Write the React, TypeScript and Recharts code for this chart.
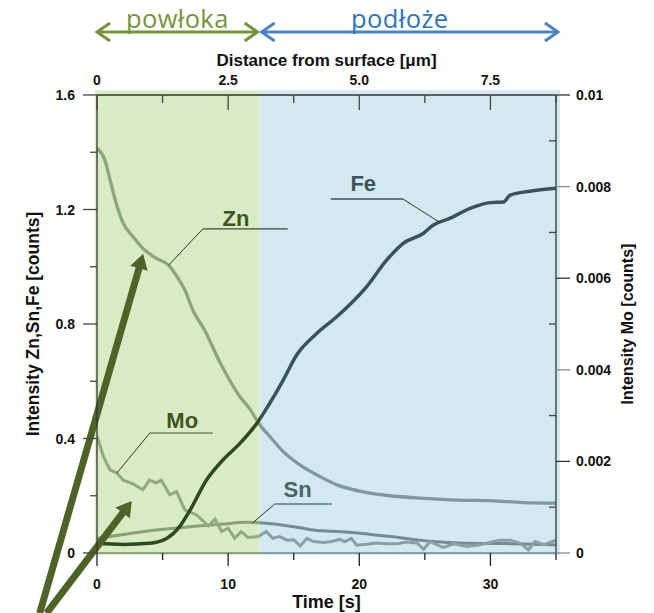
import { LineChart, Line, XAxis, YAxis, ReferenceArea, ReferenceLine, ReferenceDot } from "recharts";

// Zn, Sn, Fe on the left axis, Mo on the right axis, time in seconds
const znTime = [0, 0.6, 1.0, 1.5, 2.0, 2.75, 3.5, 4.5, 5.5, 6.1, 6.7, 7.3, 8.2, 9.4, 10.9, 11.7, 12.3, 13.2, 14.2, 15.5, 16.8, 18.3, 20.6, 22.3, 24.9, 27.4, 30, 32.5, 35];
const znCounts = [1.414, 1.373, 1.303, 1.216, 1.152, 1.105, 1.064, 1.03, 1.004, 0.965, 0.919, 0.849, 0.779, 0.664, 0.546, 0.5, 0.455, 0.406, 0.354, 0.307, 0.272, 0.238, 0.211, 0.2, 0.191, 0.185, 0.183, 0.176, 0.174];

const feTime = [0, 2.0, 4.0, 5.3, 6.3, 7.1, 8.35, 9.6, 10.9, 12.3, 13.0, 14.2, 15.2, 16.75, 18.3, 20.55, 22.1, 23.35, 24.9, 25.65, 26.9, 28.45, 30.0, 31.0, 31.5, 33.0, 35];
const feCounts = [0.034, 0.03, 0.034, 0.051, 0.092, 0.15, 0.255, 0.325, 0.383, 0.46, 0.51, 0.604, 0.69, 0.767, 0.826, 0.93, 1.024, 1.082, 1.117, 1.146, 1.169, 1.204, 1.224, 1.226, 1.25, 1.264, 1.274];

const snTime = [0, 2.0, 4.5, 7.1, 9.6, 11.4, 12.4, 13.3, 14.2, 15.0, 16.75, 17.5, 20.05, 21.8, 22.6, 24.5, 25.65, 26.9, 28.2, 30.8, 33.3, 35];
const snCounts = [0.051, 0.065, 0.08, 0.092, 0.101, 0.107, 0.106, 0.102, 0.097, 0.092, 0.079, 0.077, 0.069, 0.06, 0.057, 0.045, 0.04, 0.037, 0.034, 0.033, 0.031, 0.028];

const moTime = [0, 0.5, 1.0, 1.5, 2.0, 2.75, 3.5, 4.0, 4.5, 4.9, 5.55, 6.06, 6.7, 7.6, 8.5, 9.0, 9.5, 10.0, 10.5, 11.0, 11.5, 12.3, 12.9, 13.4, 13.9, 14.5, 15.0, 15.5, 16.0, 16.5, 17.3, 17.9, 18.5, 18.9, 19.4, 19.8, 20.6, 21.35, 22.1, 22.9, 23.6, 24.4, 24.9, 25.4, 26.4, 27.2, 28.2, 29.2, 30.7, 31.5, 32.3, 32.9, 33.4, 34.1, 35];
const moCounts = [0.00255, 0.0021, 0.00181, 0.00175, 0.00159, 0.00151, 0.00138, 0.00159, 0.00153, 0.00159, 0.00127, 0.00134, 0.00094, 0.00083, 0.00059, 0.00074, 0.00047, 0.00054, 0.00032, 0.00047, 0.00034, 0.00036, 0.00047, 0.00032, 0.00036, 0.00028, 0.00029, 0.00015, 0.00032, 0.00025, 0.00023, 0.00025, 0.0003, 0.00025, 0.00032, 0.00017, 0.00019, 0.00022, 0.0002, 0.0002, 0.00024, 0.00022, 0.00008, 0.00025, 0.00012, 0.0002, 0.00014, 0.00018, 0.00028, 0.00028, 0.00021, 0.00007, 0.00025, 0.00018, 0.00028];

const timeMax = 35;
const distanceMax = 8.75;
const coatingEnd = 12.4; // s, powłoka | podłoże

const bottomMajor = [0, 10, 20, 30];
const bottomLabels = ["0", "10", "20", "30"];
const bottomMinor = [5, 15, 25, 35];
const topMajor = [0, 2.5, 5, 7.5];
const topLabels = ["0", "2.5", "5.0", "7.5"];
const topMinor = [1.25, 3.75, 6.25, 8.75];
const leftMajor = [0, 0.4, 0.8, 1.2, 1.6];
const leftLabels = ["0", "0.4", "0.8", "1.2", "1.6"];
const leftMinor = [0.2, 0.6, 1.0, 1.4];
const rightMajor = [0, 0.002, 0.004, 0.006, 0.008, 0.01];
const rightLabels = ["0", "0.002", "0.004", "0.006", "0.008", "0.01"];
const rightMinor = [0.001, 0.003, 0.005, 0.007, 0.009];

const rows = (t: number[], v: number[]) => t.map((x, i) => ({ t: x, v: v[i] }));

const FONT = "'Liberation Sans', Arial, sans-serif";
const split = coatingEnd / timeMax;

const specs: any = {
  bottom: { major: bottomMajor, labels: bottomLabels },
  top: { major: topMajor, labels: topLabels },
  left: { major: leftMajor, labels: leftLabels },
  right: { major: rightMajor, labels: rightLabels },
};

function AxisTick(props: any) {
  const { x, y, payload, side } = props;
  const spec = specs[side];
  const i = spec.major.findIndex((m: number) => Math.abs(m - payload.value) < 1e-9);
  const major = i >= 0;
  const txt = { fontFamily: FONT, fontWeight: 700, fontSize: 14, fill: "#111" };
  let tick: any;
  let label: any = null;
  if (side === "left") {
    tick = <line x1={x - (major ? 14 : 7)} y1={y} x2={x} y2={y} stroke="#444" strokeWidth={1.3} />;
    if (major) label = <text x={x - 22} y={y} dy={5} textAnchor="end" {...txt}>{spec.labels[i]}</text>;
  } else if (side === "right") {
    const grey = major && i % 2 === 0;
    tick = major
      ? <line x1={x} y1={y} x2={x + 14} y2={y} stroke={grey ? "#8a8a8a" : "#333"} strokeWidth={1.3} />
      : <line x1={x - 7} y1={y} x2={x} y2={y} stroke="#444" strokeWidth={1.3} />;
    if (major) label = <text x={x + 20} y={y} dy={5} textAnchor="start" {...txt}>{spec.labels[i]}</text>;
  } else if (side === "bottom") {
    tick = <line x1={x} y1={y} x2={x} y2={y + (major ? 13 : 7)} stroke="#222" strokeWidth={1.3} />;
    if (major) label = <text x={x} y={y + 36} textAnchor="middle" {...txt}>{spec.labels[i]}</text>;
  } else {
    tick = <line x1={x} y1={y} x2={x} y2={y + (major ? 15 : 8)} stroke="#444" strokeWidth={1.3} />;
    if (major) label = <text x={x} y={y - 10} textAnchor="middle" {...txt}>{spec.labels[i]}</text>;
  }
  return <g>{tick}{label}</g>;
}

function SpanArrow({ viewBox, text, color, textColor, dx }: any) {
  const left = viewBox.x + 2;
  const right = viewBox.x + viewBox.width - 2;
  const y = 32;
  return (
    <g>
      <line x1={left} y1={y} x2={right} y2={y} stroke={color} strokeWidth={3} />
      <polyline points={`${left + 13},${y - 9} ${left},${y} ${left + 13},${y + 9}`} fill="none" stroke={color} strokeWidth={3} />
      <polyline points={`${right - 13},${y - 9} ${right},${y} ${right - 13},${y + 9}`} fill="none" stroke={color} strokeWidth={3} />
      <text x={(left + right) / 2 + dx} y={28} textAnchor="middle" fontFamily="'Open Sans', sans-serif" fontSize={25.5} letterSpacing={0.4} fill={textColor}>{text}</text>
    </g>
  );
}

function BigArrow(props: any) {
  const { x1, y1, x2, y2 } = props;
  const len = Math.hypot(x2 - x1, y2 - y1);
  const ux = (x2 - x1) / len;
  const uy = (y2 - y1) / len;
  const bx = x2 - ux * 15;
  const by = y2 - uy * 15;
  return (
    <g>
      <line x1={x1} y1={y1} x2={bx + ux * 2} y2={by + uy * 2} stroke="#4f6228" strokeWidth={7} />
      <polygon points={`${x2},${y2} ${bx - uy * 9},${by + ux * 9} ${bx + uy * 9},${by - ux * 9}`} fill="#4f6228" />
    </g>
  );
}

const leader = (p: any, color: string, w: number) => <line x1={p.x1} y1={p.y1} x2={p.x2} y2={p.y2} stroke={color} strokeWidth={w} />;

function Tag(color: string, text: string) {
  return (p: any) => (
    <text x={p.cx} y={p.cy} textAnchor="middle" fontFamily={FONT} fontWeight={700} fontSize={22} fill={color}>{text}</text>
  );
}

// label positions and leader lines of the element tags (data units)
const tags = [
  { name: "Zn", color: "#3f5522", at: [10.6, 1.141], bar: [8.07, 14.54, 1.132], tip: [5.47, 1.006], barColor: "#3c4a38", barW: 1.3 },
  { name: "Fe", color: "#3b5559", at: [20.3, 1.265], bar: [17.83, 23.32, 1.237], tip: [26.1, 1.156], barColor: "#5d777b", barW: 2 },
  { name: "Mo", color: "#3f5522", at: [6.5, 0.437], bar: [4.03, 8.83, 0.419], tip: [1.51, 0.279], barColor: "#8aa276", barW: 2 },
  { name: "Sn", color: "#4a6468", at: [15.3, 0.194], bar: [13.55, 17.9, 0.171], tip: [11.87, 0.105], barColor: "#5d777b", barW: 1.5 },
];

export default function App() {
  const ax = { xAxisId: "bottom", yAxisId: "left" } as const;
  return (
    <div style={{ width: 654, height: 613 }}>
      <style>{`body{margin:0}`}</style>
      <LineChart width={654} height={613} margin={{ top: 0, right: 0, bottom: 0, left: 0 }}>
        <defs>
          <linearGradient id="gZn" x1="0" y1="0" x2="1" y2="0">
            <stop offset={split} stopColor="#8ba677" />
            <stop offset={split} stopColor="#7e989b" />
          </linearGradient>
          <linearGradient id="gMo" x1="0" y1="0" x2="1" y2="0">
            <stop offset={split} stopColor="#91aa7b" />
            <stop offset={split} stopColor="#87a1a4" />
          </linearGradient>
          <linearGradient id="gSn" x1="0" y1="0" x2="1" y2="0">
            <stop offset={split} stopColor="#88a274" />
            <stop offset={split} stopColor="#718d91" />
          </linearGradient>
          <linearGradient id="gFe" x1="0" y1="0" x2="1" y2="0">
            <stop offset={split} stopColor="#2d4a1f" />
            <stop offset={split} stopColor="#3a5357" />
          </linearGradient>
          <linearGradient id="gBase" gradientUnits="userSpaceOnUse" x1="97" y1="0" x2="556" y2="0">
            <stop offset={split} stopColor="#8fa87f" />
            <stop offset={split} stopColor="#86a0a3" />
          </linearGradient>
        </defs>

        <XAxis
          xAxisId="bottom" type="number" dataKey="t" domain={[0, timeMax]} allowDataOverflow
          ticks={[...bottomMajor, ...bottomMinor].sort((a, b) => a - b)} interval={0}
          tickLine={false} tickSize={0} tickMargin={0} height={60}
          axisLine={{ stroke: "url(#gBase)", strokeWidth: 2 }}
          tick={<AxisTick side="bottom" />}
          label={{ content: (p: any) => (
            <text x={p.viewBox.x + p.viewBox.width / 2} y={p.viewBox.y + 55} textAnchor="middle" fontFamily={FONT} fontWeight={700} fontSize={18} fill="#111">Time [s]</text>
          ) }}
        />
        <XAxis
          xAxisId="top" orientation="top" type="number" dataKey="d" domain={[0, distanceMax]} allowDataOverflow
          ticks={[...topMajor, ...topMinor].sort((a, b) => a - b)} interval={0}
          tickLine={false} tickSize={0} tickMargin={0} height={95}
          axisLine={{ stroke: "#333", strokeWidth: 1.3 }}
          tick={<AxisTick side="top" />}
          label={{ content: (p: any) => (
            <text x={p.viewBox.x + p.viewBox.width / 2} y={p.viewBox.y + 66} textAnchor="middle" fontFamily={FONT} fontWeight={700} fontSize={17} fill="#111">Distance from surface [μm]</text>
          ) }}
        />
        <YAxis
          yAxisId="left" type="number" domain={[0, 1.6]} allowDataOverflow
          ticks={[...leftMajor, ...leftMinor].sort((a, b) => a - b)} interval={0}
          tickLine={false} tickSize={0} tickMargin={0} width={97}
          axisLine={{ stroke: "#333", strokeWidth: 1.3 }}
          tick={<AxisTick side="left" />}
          label={{ content: (p: any) => {
            const cx = p.viewBox.x + 33;
            const cy = p.viewBox.y + p.viewBox.height / 2;
            return <text x={cx} y={cy} transform={`rotate(-90 ${cx} ${cy})`} textAnchor="middle" dominantBaseline="central" fontFamily={FONT} fontWeight={700} fontSize={17.5} fill="#111">Intensity Zn,Sn,Fe [counts]</text>;
          } }}
        />
        <YAxis
          yAxisId="right" orientation="right" type="number" domain={[0, 0.01]} allowDataOverflow
          ticks={[...rightMajor, ...rightMinor].sort((a, b) => a - b)} interval={0}
          tickLine={false} tickSize={0} tickMargin={0} width={98}
          axisLine={{ stroke: "#333", strokeWidth: 1.3 }}
          tick={<AxisTick side="right" />}
          label={{ content: (p: any) => {
            const cx = p.viewBox.x + 71;
            const cy = p.viewBox.y + p.viewBox.height / 2;
            return <text x={cx} y={cy} transform={`rotate(-90 ${cx} ${cy})`} textAnchor="middle" dominantBaseline="central" fontFamily={FONT} fontWeight={700} fontSize={16} fill="#111">Intensity Mo [counts]</text>;
          } }}
        />

        <ReferenceArea {...ax} x1={-0.15} x2={coatingEnd} y1={-0.007} y2={1.617} fill="#d8ebc4" fillOpacity={1} stroke="none" ifOverflow="visible"
          label={(p: any) => <SpanArrow viewBox={p.viewBox} text="powłoka" color="#77933c" textColor="#77933c" dx={0} />} />
        <ReferenceArea {...ax} x1={coatingEnd} x2={timeMax + 0.3} y1={-0.007} y2={1.617} fill="#d3e9ef" fillOpacity={1} stroke="none" ifOverflow="visible"
          label={(p: any) => <SpanArrow viewBox={p.viewBox} text="podłoże" color="#4f81bd" textColor="#2f75b5" dx={-10} />} />

        {/* invisible carrier so the distance axis gets its scale */}
        <Line xAxisId="top" yAxisId="left" data={topMajor.map((d) => ({ d, v: 0 }))} dataKey="v" stroke="none" dot={false} activeDot={false} legendType="none" isAnimationActive={false} />

        <Line {...ax} data={rows(znTime, znCounts)} dataKey="v" type="monotone" stroke="url(#gZn)" strokeWidth={3.3} dot={false} isAnimationActive={false} />
        <Line {...ax} data={rows(snTime, snCounts)} dataKey="v" type="monotone" stroke="url(#gSn)" strokeWidth={3} dot={false} isAnimationActive={false} />
        <Line xAxisId="bottom" yAxisId="right" data={rows(moTime, moCounts)} dataKey="v" type="linear" stroke="url(#gMo)" strokeWidth={3} dot={false} isAnimationActive={false} />
        <Line {...ax} data={rows(feTime, feCounts)} dataKey="v" type="monotone" stroke="url(#gFe)" strokeWidth={3.5} dot={false} isAnimationActive={false} />

        {tags.map((g) => [
          <ReferenceLine key={g.name + "b"} {...ax} ifOverflow="visible" segment={[{ x: g.bar[0], y: g.bar[2] }, { x: g.bar[1], y: g.bar[2] }]} shape={(p: any) => leader(p, g.barColor, g.barW)} />,
          <ReferenceLine key={g.name + "d"} {...ax} ifOverflow="visible"
            segment={[{ x: g.tip[0] < g.bar[0] ? g.bar[0] : g.bar[1], y: g.bar[2] }, { x: g.tip[0], y: g.tip[1] }]}
            shape={(p: any) => leader(p, "#333", 1)} />,
          <ReferenceDot key={g.name + "t"} {...ax} ifOverflow="visible" x={g.at[0]} y={g.at[1]} r={0} shape={Tag(g.color, g.name)} />,
        ])}

        <ReferenceLine {...ax} ifOverflow="visible" segment={[{ x: -4.37, y: -0.21 }, { x: 3.52, y: 1.045 }]} shape={(p: any) => <BigArrow {...p} />} />
        <ReferenceLine {...ax} ifOverflow="visible" segment={[{ x: -3.84, y: -0.21 }, { x: 2.65, y: 0.182 }]} shape={(p: any) => <BigArrow {...p} />} />
      </LineChart>
    </div>
  );
}
